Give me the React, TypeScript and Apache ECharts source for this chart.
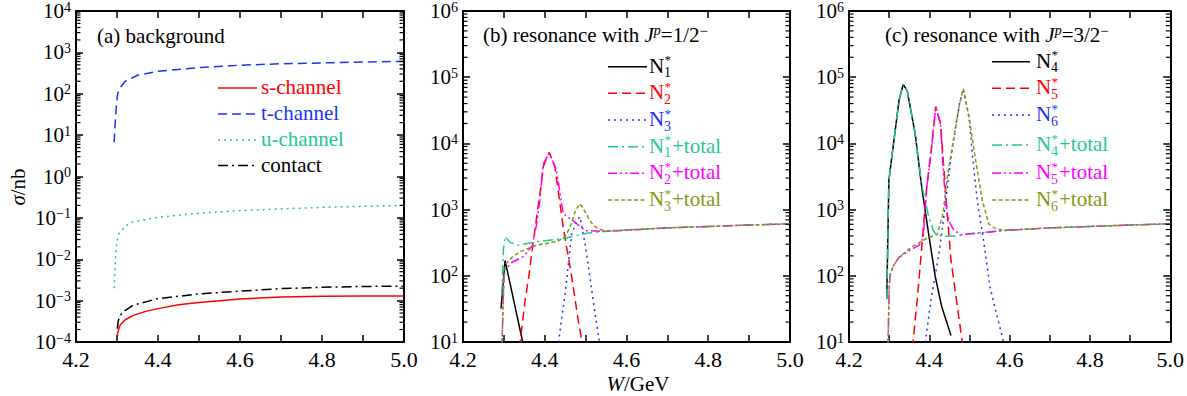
import React, { useEffect, useRef } from "react";
import * as echarts from "echarts";

type P = [number, number];

const FONT = "Liberation Serif, Times New Roman, serif";

// ---------- axis tick labels ----------
const xTickLabels = ["4.2", "4.4", "4.6", "4.8", "5.0"];

// ---------- panel (a) background ----------
const sChannel: P[] = [
  [4.301, 1.4e-4], [4.303, 1.9e-4], [4.308, 2.6e-4], [4.3195, 3.4e-4], [4.34, 4.4e-4],
  [4.37, 5.5e-4], [4.403, 6.5e-4], [4.45, 7.9e-4], [4.5, 9.0e-4], [4.6, 1.1e-3],
  [4.7, 1.22e-3], [4.8, 1.28e-3], [4.9, 1.3e-3], [5.0, 1.3e-3],
];
const tChannel: P[] = [
  [4.293, 6.7], [4.295, 15], [4.298, 45], [4.301, 90], [4.303, 110], [4.31, 150],
  [4.32, 200], [4.35, 280], [4.4, 350], [4.5, 430], [4.6, 490], [4.7, 530],
  [4.8, 556], [4.9, 585], [5.0, 610],
];
const uChannel: P[] = [
  [4.293, 0.002], [4.295, 0.006], [4.298, 0.02], [4.302, 0.035], [4.305, 0.042],
  [4.32, 0.062], [4.334, 0.078], [4.4, 0.103], [4.5, 0.13], [4.6, 0.15],
  [4.7, 0.165], [4.8, 0.18], [4.9, 0.19], [5.0, 0.2],
];
const contact: P[] = [
  [4.3007, 2.1e-4], [4.303, 3.2e-4], [4.308, 4.4e-4], [4.315, 5.4e-4], [4.34, 7.8e-4],
  [4.4, 1.12e-3], [4.5, 1.45e-3], [4.6, 1.7e-3], [4.7, 1.95e-3], [4.8, 2.1e-3],
  [4.9, 2.2e-3], [5.0, 2.24e-3],
];

// ---------- common background tail (panels b, c) ----------
const bgTail: P[] = [[4.6, 490], [4.7, 530], [4.8, 556], [4.9, 585], [5.0, 610]];

// ---------- panel (b) J^p = 1/2- ----------
const n1: P[] = [[4.293, 32], [4.303, 170], [4.346, 10]];
const n2: P[] = [
  [4.338, 8], [4.352, 43], [4.36, 90], [4.372, 330], [4.3925, 2750], [4.3965, 4500],
  [4.411, 7300], [4.425, 4370], [4.445, 550], [4.466, 96], [4.482, 21], [4.494, 8],
];
const n3: P[] = [
  [4.432, 8], [4.44, 20], [4.45, 55], [4.458, 155], [4.466, 440], [4.48, 700],
  [4.486, 780], [4.4985, 310], [4.51, 100], [4.523, 27], [4.535, 9],
];
const n1Total: P[] = [
  [4.2947, 51], [4.299, 250], [4.303, 390], [4.315, 320], [4.335, 290], [4.372, 320],
  [4.45, 370], [4.503, 440], [4.55, 470], ...bgTail,
];
const n2Total: P[] = [
  [4.295, 8], [4.3, 90], [4.303, 125], [4.32, 160], [4.348, 195], [4.37, 290],
  [4.38, 600], [4.388, 1380], [4.3965, 4900], [4.411, 7300], [4.429, 3900],
  [4.445, 870], [4.466, 700], [4.5, 480], [4.55, 470], ...bgTail,
];
const n3Total: P[] = [
  [4.295, 8], [4.3, 80], [4.304, 150], [4.32, 190], [4.339, 230], [4.38, 290],
  [4.43, 330], [4.45, 390], [4.462, 550], [4.475, 950], [4.486, 1230], [4.5, 900],
  [4.51, 690], [4.52, 570], [4.535, 500], [4.55, 480], [4.58, 485], ...bgTail,
];

// ---------- panel (c) J^p = 3/2- ----------
const n4: P[] = [
  [4.294, 45], [4.2993, 2760], [4.3244, 44000], [4.335, 78000], [4.345, 62000],
  [4.365, 13700], [4.381, 2200], [4.398, 440], [4.415, 96], [4.431, 34], [4.454, 12.5],
];
const n5: P[] = [
  [4.358, 8], [4.37, 45], [4.377, 135], [4.393, 2000], [4.4056, 8700], [4.416, 36000],
  [4.428, 19600], [4.442, 1400], [4.454, 172], [4.47, 34], [4.483, 9],
];
const n6: P[] = [
  [4.388, 8], [4.404, 43], [4.424, 217], [4.432, 500], [4.442, 1550], [4.4585, 9800],
  [4.475, 39000], [4.4846, 66600], [4.4992, 24400], [4.508, 6000], [4.5195, 1370],
  [4.535, 344], [4.551, 68], [4.567, 27], [4.587, 9],
];
const n4Total: P[] = [
  [4.294, 45], [4.2993, 2760], [4.3244, 44000], [4.335, 78000], [4.345, 62000],
  [4.365, 13700], [4.381, 2400], [4.398, 800], [4.41, 480], [4.42, 410], [4.44, 395],
  [4.47, 400], [4.5, 430], [4.55, 460], ...bgTail,
];
const n5Total: P[] = [
  [4.297, 8], [4.3, 60], [4.302, 100], [4.31, 140], [4.3244, 190], [4.355, 250],
  [4.375, 290], [4.385, 380], [4.393, 2000], [4.4056, 8700], [4.416, 36000],
  [4.428, 19600], [4.436, 3000], [4.444, 870], [4.452, 620], [4.462, 480], [4.48, 420],
  [4.5, 430], [4.55, 460], ...bgTail,
];
const n6Total: P[] = [
  [4.297, 8], [4.3, 70], [4.303, 110], [4.31, 140], [4.3244, 190], [4.355, 270],
  [4.398, 380], [4.42, 420], [4.434, 870], [4.446, 3460], [4.4627, 13700], [4.475, 39000],
  [4.4846, 66600], [4.4992, 24400], [4.5154, 5500], [4.532, 1370], [4.548, 610],
  [4.568, 500], ...bgTail,
];

// ---------- styles ----------
const RED = "#ff0000";
const BLUE = "#1a33ff";
const TEAL = "#1fc896";
const MAG = "#ff00ff";
const OLIVE = "#849a14";
const BLACK = "#000000";

const SOLID: number[] | null = null;
const DASH = [9, 5];
const DOT = [2, 4];
const DASHDOT = [10, 4, 2, 4];
const DASHDOTDOT = [9, 3, 2, 3, 2, 3];
const SHORTDASH = [4, 2.5];

const GRIDS = [
  { left: 76, top: 10, width: 328, height: 332 },
  { left: 463, top: 10, width: 327, height: 332 },
  { left: 849, top: 10, width: 328, height: 332 },
];
const Y_RANGES: [number, number][] = [[1e-4, 1e4], [10, 1e6], [10, 1e6]];
const X_RANGE: [number, number] = [4.2, 5.0];

const supExp = (v: number) => {
  const e = Math.round(Math.log10(v));
  const s = e < 0 ? "\u2212" + -e : String(e);
  return `{b|10}{s|${s}}`;
};

function xAxisFor(g: number, top: boolean) {
  return {
    type: "value",
    gridIndex: g,
    position: top ? "top" : "bottom",
    min: X_RANGE[0],
    max: X_RANGE[1],
    interval: 0.2,
    axisLine: { show: true, onZero: false, lineStyle: { color: "#000", width: 2 } },
    axisTick: { show: true, inside: true, length: 7, lineStyle: { color: "#000", width: 1.5 } },
    minorTick: { show: true, splitNumber: 2, length: 7, lineStyle: { color: "#000", width: 1.5 } },
    splitLine: { show: false },
    minorSplitLine: { show: false },
    axisLabel: top
      ? { show: false }
      : {
          show: true,
          color: "#000",
          fontFamily: FONT,
          fontSize: 22,
          margin: 6,
          showMinLabel: true,
          showMaxLabel: true,
          formatter: (v: number) =>
            xTickLabels.find((l) => Math.abs(parseFloat(l) - v) < 1e-6) ?? "",
        },
  };
}

function yAxisFor(g: number, right: boolean) {
  const [lo, hi] = Y_RANGES[g];
  return {
    type: "log",
    logBase: 10,
    gridIndex: g,
    position: right ? "right" : "left",
    min: lo,
    max: hi,
    splitNumber: Math.round(Math.log10(hi / lo)),
    axisLine: { show: true, onZero: false, lineStyle: { color: "#000", width: 2 } },
    axisTick: { show: true, inside: true, length: 7, lineStyle: { color: "#000", width: 1.5 } },
    minorTick: { show: false },
    splitLine: { show: false },
    axisLabel: right
      ? { show: false }
      : {
          show: true,
          margin: 5,
          showMinLabel: true,
          showMaxLabel: true,
          formatter: (v: number) => supExp(v),
          rich: {
            b: { fontFamily: FONT, fontSize: 21, color: "#000", lineHeight: 22, verticalAlign: "middle" },
            s: { fontFamily: FONT, fontSize: 14, color: "#000", lineHeight: 17, verticalAlign: "top" },
          },
        },
  };
}

function minorTickSeries(g: number) {
  const [lo, hi] = Y_RANGES[g];
  const e0 = Math.round(Math.log10(lo));
  const e1 = Math.round(Math.log10(hi));
  const vals: P[] = [];
  for (let e = e0; e < e1; e++) for (let k = 2; k <= 9; k++) vals.push([X_RANGE[0], k * Math.pow(10, e)]);
  return {
    type: "custom",
    xAxisIndex: 2 * g,
    yAxisIndex: 2 * g,
    silent: true,
    clip: false,
    z: 5,
    data: vals,
    renderItem: (_p: any, api: any) => {
      const y = api.value(1);
      const l = api.coord([X_RANGE[0], y]);
      const r = api.coord([X_RANGE[1], y]);
      return {
        type: "group",
        children: [
          { type: "line", shape: { x1: l[0], y1: l[1], x2: l[0] + 4.5, y2: l[1] }, style: { stroke: "#000", lineWidth: 1.2 } },
          { type: "line", shape: { x1: r[0], y1: r[1], x2: r[0] - 4.5, y2: r[1] }, style: { stroke: "#000", lineWidth: 1.2 } },
        ],
      };
    },
  };
}

function lineSeries(g: number, name: string, data: P[], color: string, dash: number[] | null) {
  return {
    type: "line",
    name,
    xAxisIndex: 2 * g,
    yAxisIndex: 2 * g,
    data,
    showSymbol: false,
    symbol: "none",
    silent: true,
    z: 3,
    lineStyle: { color, width: 1.5, type: dash ?? "solid" },
  };
}

// ---------- graphic helpers ----------
const txt = (x: number, y: number, text: string, color: string, size = 21, extra: any = {}) => ({
  type: "text",
  silent: true,
  x,
  y,
  style: { text, fill: color, fontFamily: FONT, fontSize: size, verticalAlign: "middle", align: "left", ...extra },
});
const lgLine = (x1: number, x2: number, y: number, color: string, dash: number[] | null) => ({
  type: "line",
  silent: true,
  shape: { x1, y1: y, x2, y2: y },
  style: { stroke: color, lineWidth: 1.5, lineDash: dash ?? undefined },
});
const nLabel = (x: number, y: number, idx: string, suffix: string, color: string) => [
  txt(x, y, "N", color),
  txt(x + 15.5, y - 6, "*", color, 13),
  txt(x + 15, y + 7, idx, color, 14),
  ...(suffix ? [txt(x + 23, y, suffix, color)] : []),
];

export default function App() {
  const ref = useRef<HTMLDivElement>(null);
  useEffect(() => {
    if (!ref.current) return;
    const chart = echarts.init(ref.current, undefined, { renderer: "svg" });

    const bEntries: [string, string, string, number[] | null][] = [
      ["1", "", BLACK, SOLID], ["2", "", RED, DASH], ["3", "", BLUE, DOT],
      ["1", "+total", TEAL, DASHDOT], ["2", "+total", MAG, DASHDOTDOT], ["3", "+total", OLIVE, SHORTDASH],
    ];
    const cEntries: [string, string, string, number[] | null][] = [
      ["4", "", BLACK, SOLID], ["5", "", RED, DASH], ["6", "", BLUE, DOT],
      ["4", "+total", TEAL, DASHDOT], ["5", "+total", MAG, DASHDOTDOT], ["6", "+total", OLIVE, SHORTDASH],
    ];
    const bRows = [66.7, 93.3, 120, 146.7, 173.3, 200];
    const cRows = [61.7, 88.3, 115, 145, 173, 200];
    const aEntries: [string, string, number[] | null][] = [
      ["s-channel", RED, SOLID], ["t-channel", BLUE, DASH], ["u-channel", TEAL, DOT], ["contact", BLACK, DASHDOT],
    ];
    const aRows = [88, 114, 140, 165.5];

    const graphic: any[] = [];
    aEntries.forEach(([name, color, dash], i) => {
      graphic.push(lgLine(218, 257, aRows[i], color, dash));
      graphic.push(txt(261, aRows[i] - 1, name, color));
    });
    bEntries.forEach(([idx, suf, color, dash], i) => {
      graphic.push(lgLine(608, 647, bRows[i], color, dash));
      graphic.push(...nLabel(649, bRows[i] - 1, idx, suf, color));
    });
    cEntries.forEach(([idx, suf, color, dash], i) => {
      graphic.push(lgLine(992, 1030, cRows[i], color, dash));
      graphic.push(...nLabel(1036, cRows[i] - 1, idx, suf, color));
    });

    const richTitle = {
      n: { fontFamily: FONT, fontSize: 21, fill: "#000", lineHeight: 24, verticalAlign: "middle" },
      i: { fontFamily: FONT, fontSize: 21, fontStyle: "italic", fill: "#000", lineHeight: 24, verticalAlign: "middle" },
      ip: { fontFamily: FONT, fontSize: 14, fontStyle: "italic", fill: "#000", lineHeight: 17, verticalAlign: "top" },
      sp: { fontFamily: FONT, fontSize: 15, fill: "#000", lineHeight: 17, verticalAlign: "top" },
    };
    graphic.push(txt(97, 36, "(a) background", "#000"));
    graphic.push({
      type: "text", silent: true, x: 483, y: 35,
      style: { text: "{n|(b) resonance with }{i|J}{ip|p}{n|=1/2}{sp|\u2212}", rich: richTitle, verticalAlign: "middle", align: "left" },
    });
    graphic.push({
      type: "text", silent: true, x: 885, y: 35,
      style: { text: "{n|(c) resonance with }{i|J}{ip|p}{n|=3/2}{sp|\u2212}", rich: richTitle, verticalAlign: "middle", align: "left" },
    });
    graphic.push({
      type: "text", silent: true, x: 638, y: 384,
      style: { text: "{i|W}{n|/GeV}", rich: richTitle, verticalAlign: "middle", align: "center" },
    });
    graphic.push({
      type: "text", silent: true, x: 18, y: 187, rotation: Math.PI / 2,
      style: { text: "{i|\u03c3}{n|/nb}", rich: richTitle, verticalAlign: "middle", align: "center" },
    });

    const option: any = {
      animation: false,
      backgroundColor: "#fff",
      textStyle: { fontFamily: FONT },
      grid: GRIDS.map((g) => ({ ...g, containLabel: false })),
      xAxis: [0, 1, 2].flatMap((g) => [xAxisFor(g, false), xAxisFor(g, true)]),
      yAxis: [0, 1, 2].flatMap((g) => [yAxisFor(g, false), yAxisFor(g, true)]),
      series: [
        lineSeries(0, "s-channel", sChannel, RED, SOLID),
        lineSeries(0, "t-channel", tChannel, BLUE, DASH),
        lineSeries(0, "u-channel", uChannel, TEAL, DOT),
        lineSeries(0, "contact", contact, BLACK, DASHDOT),

        lineSeries(1, "N1*", n1, BLACK, SOLID),
        lineSeries(1, "N2*", n2, RED, DASH),
        lineSeries(1, "N3*", n3, BLUE, DOT),
        lineSeries(1, "N1*+total", n1Total, TEAL, DASHDOT),
        lineSeries(1, "N2*+total", n2Total, MAG, DASHDOTDOT),
        lineSeries(1, "N3*+total", n3Total, OLIVE, SHORTDASH),

        lineSeries(2, "N4*", n4, BLACK, SOLID),
        lineSeries(2, "N5*", n5, RED, DASH),
        lineSeries(2, "N6*", n6, BLUE, DOT),
        lineSeries(2, "N4*+total", n4Total, TEAL, DASHDOT),
        lineSeries(2, "N5*+total", n5Total, MAG, DASHDOTDOT),
        lineSeries(2, "N6*+total", n6Total, OLIVE, SHORTDASH),

        minorTickSeries(0),
        minorTickSeries(1),
        minorTickSeries(2),
      ],
      graphic,
    };
    chart.setOption(option);
    return () => chart.dispose();
  }, []);
  return (
    <div
      ref={ref}
      style={{ position: "absolute", left: 0, top: 0, width: 1187, height: 396, background: "#fff" }}
    />
  );
}
